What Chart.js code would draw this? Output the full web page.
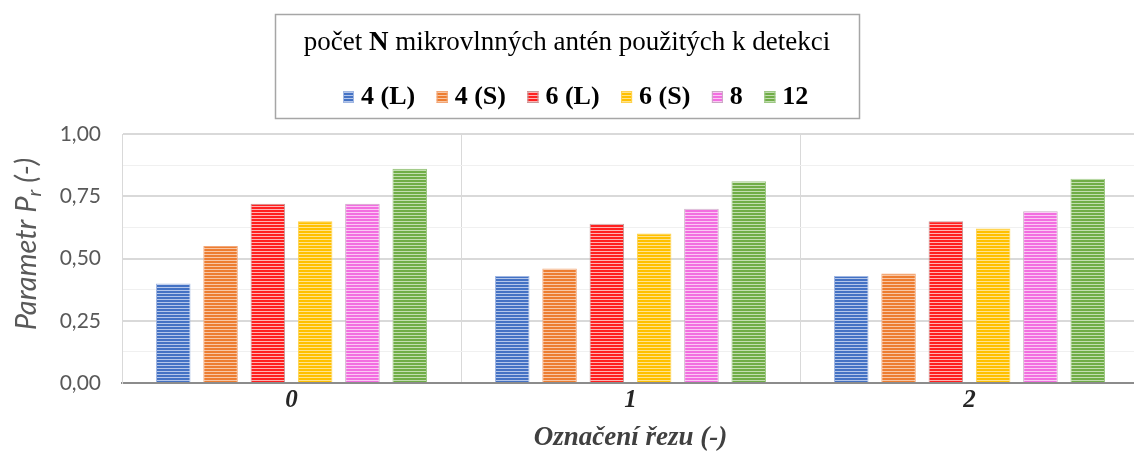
<!DOCTYPE html>
<html>
<head>
<meta charset="utf-8">
<script src="https://cdn.jsdelivr.net/npm/chart.js@4/dist/chart.umd.min.js"></script>
<style>
  html, body { margin: 0; padding: 0; background: #fff; overflow: hidden; }
  #wrap { width: 1139px; height: 454px; }
</style>
</head>
<body>
<div id="wrap"><canvas id="myChart" width="1139" height="454"></canvas></div>
<script>
// data
const categories = ['0', '1', '2'];
const seriesLabels = ['4 (L)', '4 (S)', '6 (L)', '6 (S)', '8', '12'];
const vals4L = [0.40, 0.43, 0.43];
const vals4S = [0.55, 0.46, 0.44];
const vals6L = [0.72, 0.64, 0.65];
const vals6S = [0.65, 0.60, 0.62];
const vals8 = [0.72, 0.70, 0.69];
const vals12 = [0.86, 0.81, 0.82];
const yTicks = [0, 0.25, 0.5, 0.75, 1];

// stripe colours: [line, light line, outline]
const colors = [
  ['#4472c4', '#b4c6ea', '#9fb6e2'],
  ['#ed7d31', '#f8c7a6', '#f2a676'],
  ['#ff2020', '#ffb3b3', '#c49a9a'],
  ['#ffc000', '#ffe38f', '#ffd24d'],
  ['#f26ee0', '#fbc8f4', '#c9a9c4'],
  ['#70ad47', '#c2deb0', '#9cc783']
];

function stripes(c) {
  const cv = document.createElement('canvas');
  cv.width = 4;
  cv.height = 3;
  const cx = cv.getContext('2d');
  cx.fillStyle = c[0];
  cx.fillRect(0, 0, 4, 2);
  cx.fillStyle = c[1];
  cx.fillRect(0, 2, 4, 1);
  return cx.createPattern(cv, 'repeat');
}

const allVals = [vals4L, vals4S, vals6L, vals6S, vals8, vals12];
const datasets = seriesLabels.map((lab, i) => ({
  label: lab,
  data: allVals[i],
  backgroundColor: stripes(colors[i]),
  borderColor: colors[i][2],
  borderWidth: 1,
  categoryPercentage: 0.837,
  barPercentage: 0.73
}));

// legend box with title (bold N) and pattern swatches
const legendBox = {
  id: 'legendBox',
  afterDraw(chart) {
    const ctx = chart.ctx;
    ctx.save();
    ctx.strokeStyle = '#a6a6a6';
    ctx.lineWidth = 1.5;
    ctx.strokeRect(275.5, 14.5, 584, 104);

    // title
    const parts = [['počet ', 'normal'], ['N', 'bold'], [' mikrovlnných antén použitých k detekci', 'normal']];
    let w = 0;
    parts.forEach(p => { ctx.font = p[1] + ' 27px "Liberation Serif"'; w += ctx.measureText(p[0]).width; });
    let x = 567 - w / 2;
    ctx.fillStyle = '#000';
    ctx.textBaseline = 'middle';
    parts.forEach(p => {
      ctx.font = p[1] + ' 27px "Liberation Serif"';
      ctx.fillText(p[0], x, 43);
      x += ctx.measureText(p[0]).width;
    });

    // items
    ctx.font = 'bold 26px "Liberation Serif"';
    x = 343;
    chart.data.datasets.forEach((ds, i) => {
      ctx.fillStyle = ds.backgroundColor;
      ctx.fillRect(x, 91, 11, 12);
      ctx.strokeStyle = ds.borderColor;
      ctx.lineWidth = 1;
      ctx.strokeRect(x + 0.5, 91.5, 10, 11);
      ctx.fillStyle = '#000';
      ctx.fillText(ds.label, x + 18, 97);
      x += 18 + ctx.measureText(ds.label).width + 21.5;
    });
    ctx.restore();
  }
};

// y axis title with subscript r
const yTitle = {
  id: 'yTitle',
  afterDraw(chart) {
    const ctx = chart.ctx;
    ctx.save();
    ctx.translate(27, 244);
    ctx.rotate(-Math.PI / 2);
    ctx.fillStyle = '#595959';
    ctx.textBaseline = 'middle';
    const big = 'italic 29px Lato';
    const small = 'italic 20px Lato';
    ctx.font = big;
    const a = 'Parametr P', b = ' (-)';
    const wa = ctx.measureText(a).width, wb = ctx.measureText(b).width;
    ctx.font = small;
    const wr = ctx.measureText('r').width;
    let x = -(wa + wr + wb) / 2;
    ctx.font = big;
    ctx.fillText(a, x, 0);
    x += wa;
    ctx.font = small;
    ctx.fillText('r', x, 8);
    x += wr;
    ctx.font = big;
    ctx.fillText(b, x, 0);
    ctx.restore();
  }
};

const config = {
  type: 'bar',
  data: { labels: categories, datasets: datasets },
  options: {
    responsive: false,
    animation: false,
    layout: { padding: { top: 134, left: 0, right: 0, bottom: 0 } },
    plugins: {
      legend: { display: false },
      tooltip: { enabled: false }
    },
    scales: {
      x: {
        afterFit(scale) { scale.height = 71; },
        grid: { offset: true, color: '#d9d9d9', lineWidth: 1, drawTicks: false },
        border: { color: '#8c8c8c', width: 2 },
        ticks: {
          padding: 3,
          color: '#262626',
          font: { family: 'Liberation Serif', size: 25, weight: 'bold', style: 'italic' }
        },
        title: {
          display: true,
          text: 'Označení řezu (-)',
          color: '#404040',
          padding: { top: 0, bottom: 0 },
          font: { family: 'Liberation Serif', size: 27, weight: 'bold', style: 'italic' }
        }
      },
      y: {
        min: 0,
        max: 1,
        afterFit(scale) { scale.width = 122; },
        afterBuildTicks(scale) {
          // quarter ticks plus lighter eighth lines between them
          const t = [];
          for (let i = 0; i < yTicks.length; i++) {
            t.push({ value: yTicks[i] });
            if (i < yTicks.length - 1) t.push({ value: (yTicks[i] + yTicks[i + 1]) / 2 });
          }
          scale.ticks = t;
        },
        grid: {
          drawTicks: false,
          color: ctx => yTicks.includes(ctx.tick.value) ? '#d9d9d9' : '#f0f0f0',
          lineWidth: ctx => yTicks.includes(ctx.tick.value) ? 2 : 1
        },
        border: { color: '#d9d9d9', width: 1 },
        ticks: {
          padding: 21,
          color: '#595959',
          font: { family: 'Lato', size: 21 },
          callback: v => yTicks.includes(v) ? v.toFixed(2).replace('.', ',') : ''
        }
      }
    }
  },
  plugins: [legendBox, yTitle]
};

new Chart(document.getElementById('myChart'), config);
</script>
</body>
</html>
